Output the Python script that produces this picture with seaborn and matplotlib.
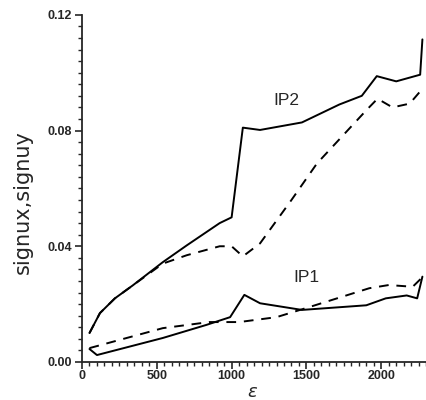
import numpy as np
import pandas as pd
import seaborn as sns
import matplotlib.pyplot as plt
from matplotlib.ticker import MultipleLocator

# values
ip2_solid_x = [50, 120, 220, 340, 540, 700, 920, 1000, 1075, 1190, 1470, 1720, 1870, 1970, 2100, 2260, 2275]
ip2_solid_y = [0.0100, 0.0169, 0.0220, 0.0265, 0.0345, 0.0403, 0.0480, 0.0500, 0.0810, 0.0802, 0.0828, 0.0890, 0.0920, 0.0988, 0.0970, 0.0993, 0.1115]

ip2_dash_x = [50, 120, 220, 340, 540, 700, 920, 1000, 1075, 1190, 1400, 1570, 1900, 1975, 2075, 2190, 2268]
ip2_dash_y = [0.0100, 0.0169, 0.0220, 0.0265, 0.0340, 0.0369, 0.0400, 0.0400, 0.0365, 0.0410, 0.0560, 0.0686, 0.0870, 0.0910, 0.0880, 0.0893, 0.0940]

ip1_solid_x = [50, 100, 540, 830, 990, 1085, 1190, 1470, 1900, 2030, 2170, 2240, 2275]
ip1_solid_y = [0.0045, 0.0024, 0.0083, 0.0128, 0.0155, 0.0232, 0.0203, 0.0180, 0.0196, 0.0220, 0.0230, 0.0220, 0.0295]

ip1_dash_x = [50, 540, 850, 1050, 1300, 1520, 1920, 2050, 2210, 2275]
ip1_dash_y = [0.0048, 0.0117, 0.0138, 0.0138, 0.0155, 0.0190, 0.0255, 0.0266, 0.0260, 0.0293]

def frame(x, y, name, style):
    return pd.DataFrame({'eps': x, 'sig': y, 'curve': name, 'kind': style})

data = pd.concat([
    frame(ip2_solid_x, ip2_solid_y, 'IP2 x', 'solid'),
    frame(ip2_dash_x, ip2_dash_y, 'IP2 y', 'dashed'),
    frame(ip1_solid_x, ip1_solid_y, 'IP1 x', 'solid'),
    frame(ip1_dash_x, ip1_dash_y, 'IP1 y', 'dashed'),
], ignore_index=True)

sns.set_style('ticks')
plt.rcParams['font.family'] = ['Liberation Sans', 'DejaVu Sans']

fig = plt.figure(figsize=(4.27, 4.00), dpi=100)
ax = fig.add_axes([0.192, 0.095, 0.806, 0.868])

sns.lineplot(data=data, x='eps', y='sig', units='curve', style='kind',
             estimator=None, sort=False, color='black', linewidth=1.4,
             dashes={'solid': '', 'dashed': (5, 4)}, legend=False, ax=ax)

ax.set_xlim(0, 2300)
ax.set_ylim(0, 0.12)
ax.set_xticks([0, 500, 1000, 1500, 2000])
ax.set_yticks([0.00, 0.04, 0.08, 0.12])
ax.set_yticklabels(['0.00', '0.04', '0.08', '0.12'])
ax.xaxis.set_minor_locator(MultipleLocator(50))
ax.yaxis.set_minor_locator(MultipleLocator(0.004))
ax.tick_params(which='major', length=5, width=1.2, labelsize=9, direction='out', pad=2)
ax.tick_params(axis='x', which='major', pad=0.5)
ax.tick_params(which='minor', length=3, width=1.0, direction='out')
for lab in ax.get_xticklabels() + ax.get_yticklabels():
    lab.set_fontweight('bold')
sns.despine(ax=ax)
for s in ['left', 'bottom']:
    ax.spines[s].set_linewidth(1.3)

ax.set_xlabel(r'$\varepsilon$', fontsize=13, va='center')
ax.xaxis.set_label_coords(0.497, -0.087)
ax.set_ylabel('signux,signuy', fontsize=15, family='DejaVu Sans')
ax.yaxis.set_label_coords(-0.142, 0.46)

ax.text(1367, 0.0903, 'IP2', fontsize=12.5, ha='center', va='center')
ax.text(1500, 0.0293, 'IP1', fontsize=12.5, ha='center', va='center')

fig.savefig('out.png', dpi=100)
plt.close(fig)
